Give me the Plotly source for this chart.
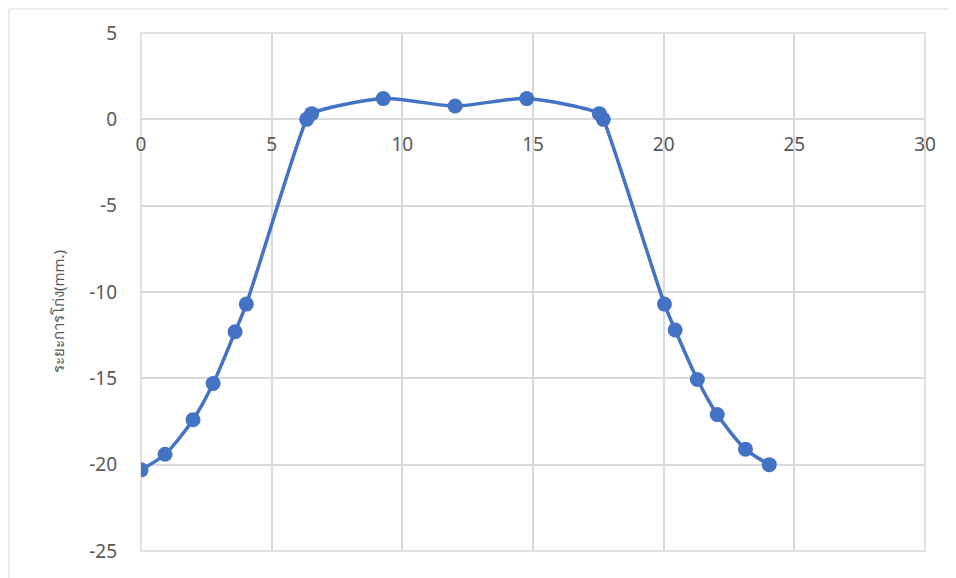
import plotly.graph_objects as go

# Data
x_values = [0.0, 0.92, 1.99, 2.76, 3.6, 4.03, 6.34, 6.53, 9.27, 12.02, 14.76, 17.54, 17.69,
            20.03, 20.44, 21.29, 22.05, 23.13, 24.04]
y_values = [-20.3, -19.4, -17.4, -15.3, -12.3, -10.7, 0.0, 0.33, 1.2, 0.77, 1.2, 0.33, 0.0,
            -10.7, -12.2, -15.07, -17.1, -19.1, -20.0]
y_title = "ระยะการโก่ง(mm.)"
x_ticks = [0, 5, 10, 15, 20, 25, 30]
y_ticks = [5, 0, -5, -10, -15, -20, -25]

BLUE = "#4472C4"
GRID = "#d9d9d9"
TXT = "#595959"
FONT = "Noto Sans"

fig = go.Figure()
fig.add_trace(go.Scatter(
    x=x_values, y=y_values, mode="lines+markers",
    line=dict(color=BLUE, width=3.5, shape="spline", smoothing=0.8),
    marker=dict(color=BLUE, size=15),
    showlegend=False, hoverinfo="x+y",
))

fig.update_layout(
    width=956, height=578,
    margin=dict(l=133, r=39, t=25, b=35),
    paper_bgcolor="white", plot_bgcolor="white",
    font=dict(family=FONT, color=TXT, size=19),
    xaxis=dict(
        range=[0, 30], tickvals=x_ticks, ticktext=[str(v) for v in x_ticks],
        showgrid=True, gridcolor=GRID, gridwidth=1.5, zeroline=False, showline=False,
        anchor="free", position=5 / 6, ticks="", ticklabelstandoff=12,
        tickfont=dict(family=FONT, color=TXT, size=19), fixedrange=True,
    ),
    yaxis=dict(
        range=[-25, 5], tickvals=y_ticks, ticktext=[str(v) for v in y_ticks],
        showgrid=True, gridcolor=GRID, gridwidth=1.5, zeroline=False, showline=False,
        ticks="", ticklabelstandoff=23,
        tickfont=dict(family=FONT, color=TXT, size=19), fixedrange=True,
    ),
    shapes=[
        dict(type="rect", xref="x domain", yref="y domain", x0=0, x1=1, y0=0, y1=1,
             line=dict(color=GRID, width=1.5), layer="below"),
        dict(type="rect", xref="paper", yref="paper", x0=-132 / 784, x1=1.2, y0=-0.2,
             y1=1 + 24 / 518, line=dict(color=GRID, width=1), layer="below"),
    ],
    annotations=[
        dict(text=y_title, xref="paper", yref="paper", x=-83 / 784, y=(551 - 312) / 518,
             textangle=-90, showarrow=False, font=dict(family=FONT, size=15, color=TXT),
             xanchor="center", yanchor="middle"),
    ],
)

fig.write_html("out.html")
